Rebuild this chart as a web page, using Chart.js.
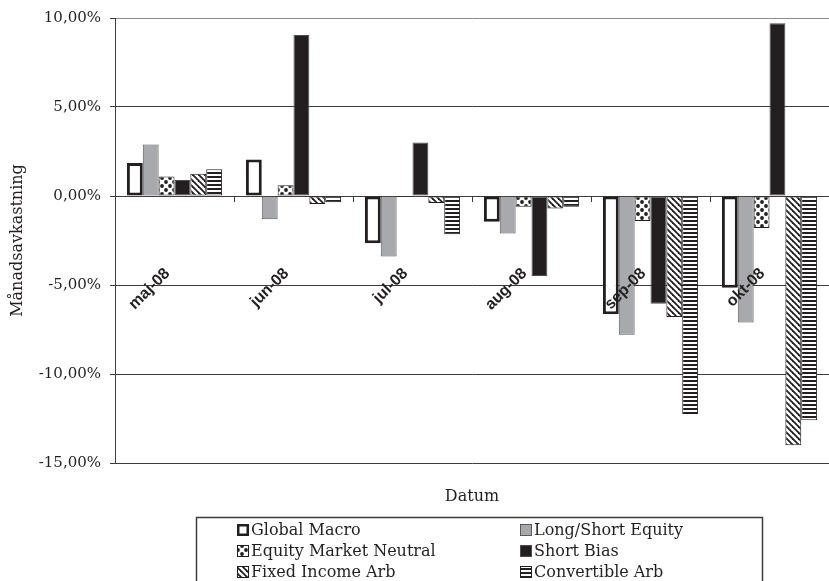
<!DOCTYPE html>
<html>
<head>
<meta charset="utf-8">
<script src="https://cdn.jsdelivr.net/npm/chart.js@4/dist/chart.umd.min.js"></script>
<style>
  html, body { margin: 0; padding: 0; background: #fff; }
  #wrap { width: 829px; height: 581px; position: relative; }
</style>
</head>
<body>
<div id="wrap"><canvas id="myChart" width="829" height="581"></canvas></div>
<script>
const months = ["maj-08", "jun-08", "jul-08", "aug-08", "sep-08", "okt-08"];

const globalMacro = [1.85, 2.05, -2.65, -1.45, -6.65, -5.15];
const longShortEquity = [2.9, -1.3, -3.4, -2.1, -7.8, -7.1];
const equityMarketNeutral = [1.1, 0.6, -0.05, -0.6, -1.4, -1.8];
const shortBias = [0.9, 9.05, 3.0, -4.5, -6.05, 9.7];
const fixedIncomeArb = [1.25, -0.45, -0.4, -0.7, -6.8, -14.0];
const convertibleArb = [1.5, -0.35, -2.15, -0.6, -12.25, -12.6];

const yTicks = [-15, -10, -5, 0, 5, 10];

const ink = "#231f20";
const serif = "'DejaVu Serif', serif";

let ctx = document.getElementById("myChart").getContext("2d");

// small canvas tiles used as bar fills
function makePattern(w, h, draw) {
  const c = document.createElement("canvas");
  c.width = w;
  c.height = h;
  const p = c.getContext("2d");
  p.fillStyle = "#fff";
  p.fillRect(0, 0, w, h);
  p.fillStyle = ink;
  p.strokeStyle = ink;
  draw(p);
  return ctx.createPattern(c, "repeat");
}

const dotsFill = makePattern(8, 8, (p) => {
  [[2, 2], [6, 6]].forEach(([x, y]) => {
    p.beginPath();
    p.arc(x, y, 1.9, 0, Math.PI * 2);
    p.fill();
  });
});

const diagFill = makePattern(6, 6, (p) => {
  p.lineWidth = 1.8;
  for (let x0 = -6; x0 <= 6; x0 += 6) {
    p.beginPath();
    p.moveTo(x0 - 1, -1);
    p.lineTo(x0 + 7, 7);
    p.stroke();
  }
});

const stripeFill = makePattern(4, 4, (p) => {
  p.fillRect(0, 0, 4, 2);
});

const data = {
  labels: months,
  datasets: [
    { label: "Global Macro", data: globalMacro, backgroundColor: "#fff", borderColor: ink, borderWidth: 3 },
    { label: "Long/Short Equity", data: longShortEquity, backgroundColor: "#a7a9ac", borderColor: "#58595b", borderWidth: 1 },
    { label: "Equity Market Neutral", data: equityMarketNeutral, backgroundColor: dotsFill, borderColor: ink, borderWidth: 1 },
    { label: "Short Bias", data: shortBias, backgroundColor: ink, borderColor: "#4d4d4f", borderWidth: 1 },
    { label: "Fixed Income Arb", data: fixedIncomeArb, backgroundColor: diagFill, borderColor: ink, borderWidth: 1 },
    { label: "Convertible Arb", data: convertibleArb, backgroundColor: stripeFill, borderColor: ink, borderWidth: 1 },
  ],
};

const overlay = {
  id: "overlay",
  afterDatasetsDraw(chart) {
    const c = chart.ctx;
    const x = chart.scales.x;
    const y = chart.scales.y;
    const y0 = y.getPixelForValue(0);
    const half = (x.getPixelForValue(1) - x.getPixelForValue(0)) / 2;

    // tick marks at the category boundaries, on the zero line
    c.save();
    c.strokeStyle = "#3c3c3c";
    c.lineWidth = 1;
    months.forEach((m, i) => {
      const bx = Math.round(x.getPixelForValue(i) + half) + 0.5;
      c.beginPath();
      c.moveTo(bx, y0);
      c.lineTo(bx, y0 + 6);
      c.stroke();
    });

    // rotated month labels
    c.fillStyle = ink;
    c.font = "bold 16px 'Liberation Sans', Arial, sans-serif";
    c.textAlign = "right";
    c.textBaseline = "middle";
    months.forEach((m, i) => {
      c.save();
      c.translate(x.getPixelForValue(i) - 7, y0 + 75);
      c.rotate(-Math.PI / 4);
      c.fillText(m, 0, 0);
      c.restore();
    });
    c.restore();
  },
  afterDraw(chart) {
    const c = chart.ctx;
    c.save();
    c.strokeStyle = "#3c3c3c";
    c.lineWidth = 1.5;
    c.strokeRect(196.5, 517.5, 566, 90);

    const cols = [237, 520];
    const rows = [530, 551, 572];
    c.font = "16px " + serif;
    c.textBaseline = "middle";
    c.textAlign = "left";
    chart.data.datasets.forEach((ds, i) => {
      const lx = cols[i % 2];
      const ly = rows[Math.floor(i / 2)];
      const bw = Math.min(ds.borderWidth, 2.5);
      c.fillStyle = ds.backgroundColor;
      c.fillRect(lx, ly - 6, 12, 12);
      c.strokeStyle = ds.borderColor;
      c.lineWidth = bw;
      c.strokeRect(lx + bw / 2, ly - 6 + bw / 2, 12 - bw, 12 - bw);
      c.fillStyle = ink;
      c.fillText(ds.label, lx + 14, ly + 1);
    });
    c.restore();
  },
};

let myChart = new Chart(ctx, {
  type: "bar",
  data: data,
  plugins: [overlay],
  options: {
    responsive: false,
    animation: false,
    layout: { padding: { top: 16, right: -6, left: 0, bottom: 0 } },
    datasets: {
      bar: {
        categoryPercentage: 0.8,
        barPercentage: 1.0,
        borderSkipped: false,
      },
    },
    plugins: {
      legend: { display: false },
      tooltip: { enabled: false },
    },
    scales: {
      x: {
        grid: { display: false },
        border: { display: false },
        ticks: { display: false },
        title: {
          display: true,
          text: "Datum",
          color: ink,
          font: { family: serif, size: 16 },
          padding: { top: 0, bottom: 75 },
        },
        afterFit: (scale) => {
          scale.height = 118;
        },
      },
      y: {
        min: yTicks[0],
        max: yTicks[yTicks.length - 1],
        afterBuildTicks: (scale) => {
          scale.ticks = yTicks.map((v) => ({ value: v }));
        },
        grid: {
          color: (c) => (c.tick && c.tick.value === 10 ? "#8c8c8c" : "#3c3c3c"),
          lineWidth: 1,
          tickLength: 5,
          tickColor: "#3c3c3c",
        },
        border: { display: true, color: "#3c3c3c", width: 1 },
        ticks: {
          color: ink,
          padding: 9,
          font: { family: serif, size: 15 },
          callback: (v) => v.toFixed(2).replace(".", ",") + "%",
        },
        title: {
          display: true,
          text: "Månadsavkastning",
          color: ink,
          font: { family: serif, size: 16 },
          padding: { top: 8, bottom: 0 },
        },
        afterFit: (scale) => {
          scale.width = 115;
        },
      },
    },
  },
});
</script>
</body>
</html>
